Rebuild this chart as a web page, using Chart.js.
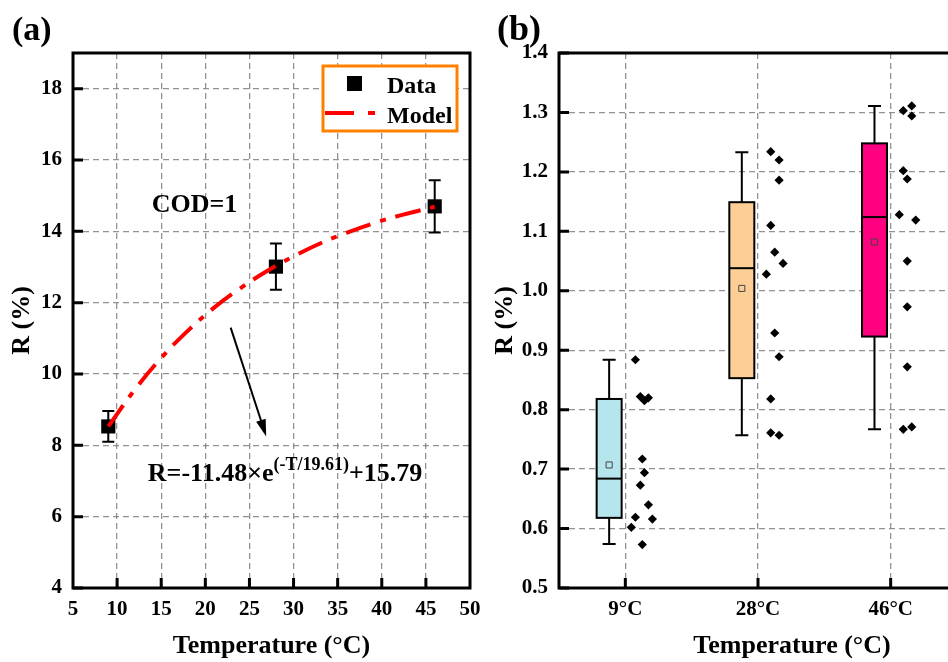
<!DOCTYPE html>
<html>
<head>
<meta charset="utf-8">
<script src="https://cdn.jsdelivr.net/npm/chart.js@4.4.1/dist/chart.umd.min.js"></script>
<style>
  html, body { margin: 0; padding: 0; background: #fff; overflow: hidden; }
  #wrapA { position: absolute; left: 0; top: 0; width: 480px; height: 662px; }
  #wrapB { position: absolute; left: 490px; top: 0; width: 458px; height: 662px; overflow: hidden; }
</style>
</head>
<body>
<div id="wrapA"><canvas id="chartA" width="480" height="662"></canvas></div>
<div id="wrapB"><canvas id="chartB" width="480" height="662"></canvas></div>
<script>
// ---- panel (a) data ----
const tempA = [9, 28, 46];
const rA = [8.53, 13.01, 14.70];
const errA = [0.43, 0.65, 0.73];
const modelT = [9, 12, 15, 18, 21, 24, 27, 30, 33, 36, 39, 42, 46];
const modelR = [8.53, 9.56, 10.45, 11.21, 11.86, 12.41, 12.89, 13.30, 13.66, 13.96, 14.22, 14.44, 14.69];
const xTicksA = [5, 10, 15, 20, 25, 30, 35, 40, 45, 50];
const yTicksA = [4, 6, 8, 10, 12, 14, 16, 18];

// ---- panel (b) data ----
const groups = ['9°C', '28°C', '46°C'];
const q1 = [0.618, 0.853, 0.923];
const median = [0.684, 1.038, 1.124];
const q3 = [0.818, 1.149, 1.248];
const whiskLo = [0.574, 0.757, 0.767];
const whiskHi = [0.884, 1.233, 1.311];
const means = [0.707, 1.004, 1.082];
const pts9 = [0.884, 0.822, 0.815, 0.820, 0.717, 0.694, 0.673, 0.640, 0.619, 0.616, 0.602, 0.573];
const pts28 = [1.234, 1.220, 1.186, 1.110, 1.065, 1.046, 1.028, 0.929, 0.889, 0.818, 0.761, 0.757];
const pts46 = [1.303, 1.311, 1.294, 1.202, 1.188, 1.128, 1.119, 1.050, 0.973, 0.872, 0.767, 0.771];
const jit9 = [0.076, 0.113, 0.144, 0.174, 0.128, 0.144, 0.113, 0.174, 0.076, 0.204, 0.045, 0.128];
const jit28 = [0.096, 0.159, 0.159, 0.096, 0.126, 0.189, 0.063, 0.126, 0.159, 0.096, 0.096, 0.159];
const jit46 = [0.095, 0.159, 0.159, 0.095, 0.125, 0.065, 0.189, 0.125, 0.125, 0.125, 0.095, 0.159];
const yTicksB = [0.5, 0.6, 0.7, 0.8, 0.9, 1.0, 1.1, 1.2, 1.3, 1.4];
const boxColors = ['#b5e6ed', '#fdcf96', '#ff0080'];
const boxShift = -0.122;

const SERIF = "'Liberation Serif', 'Times New Roman', serif";
Chart.defaults.font.family = SERIF;
Chart.defaults.font.weight = 'bold';
Chart.defaults.color = '#000';

const gridOpts = { color: 'rgba(128,128,128,0.85)', lineWidth: 1.3, drawTicks: false };
const borderOpts = { display: false, dash: [6, 4] };

function frameAndTicks(chart, xTicksOn) {
    const { ctx, chartArea: a, scales } = chart;
    ctx.save();
    ctx.strokeStyle = '#000';
    ctx.lineWidth = 3;
    ctx.setLineDash([]);
    ctx.beginPath();
    scales.y.ticks.forEach(t => {
        const py = scales.y.getPixelForValue(t.value);
        ctx.moveTo(a.left, py);
        ctx.lineTo(a.left + 10, py);
    });
    scales.x.ticks.forEach(t => {
        if (!xTicksOn(t.value)) return;
        const px = scales.x.getPixelForValue(t.value);
        ctx.moveTo(px, a.bottom);
        ctx.lineTo(px, a.bottom - 10);
    });
    ctx.stroke();
    ctx.strokeRect(a.left, a.top, a.right - a.left, a.bottom - a.top);
    ctx.restore();
}

// ---- panel (a) ----
const panelA = {
    id: 'panelA',
    beforeDatasetsDraw(chart) {
        const { ctx, scales: { x, y } } = chart;
        ctx.save();
        ctx.strokeStyle = '#000';
        ctx.lineWidth = 2;
        ctx.beginPath();
        tempA.forEach((t, i) => {
            const px = x.getPixelForValue(t);
            const top = y.getPixelForValue(rA[i] + errA[i]);
            const bot = y.getPixelForValue(rA[i] - errA[i]);
            ctx.moveTo(px, top); ctx.lineTo(px, bot);
            ctx.moveTo(px - 6, top); ctx.lineTo(px + 6, top);
            ctx.moveTo(px - 6, bot); ctx.lineTo(px + 6, bot);
        });
        ctx.stroke();
        ctx.restore();
    },
    afterDraw(chart) {
        const { ctx, scales: { x, y } } = chart;
        frameAndTicks(chart, v => v !== 5 && v !== 50);
        ctx.save();

        // legend
        ctx.fillStyle = '#fff';
        ctx.fillRect(323, 66, 134, 65);
        ctx.strokeStyle = '#ff8000';
        ctx.lineWidth = 3;
        ctx.strokeRect(323, 66, 134, 65);
        ctx.fillStyle = '#000';
        ctx.fillRect(347, 76, 15, 15);
        ctx.strokeStyle = '#ff0000';
        ctx.lineWidth = 4;
        ctx.setLineDash([29, 14, 7, 30]);
        ctx.beginPath();
        ctx.moveTo(325, 113); ctx.lineTo(378, 113);
        ctx.stroke();
        ctx.setLineDash([]);
        ctx.fillStyle = '#000';
        ctx.font = `bold 24px ${SERIF}`;
        ctx.textAlign = 'left';
        ctx.textBaseline = 'alphabetic';
        ctx.fillText('Data', 387, 93);
        ctx.fillText('Model', 387, 123);

        // COD text
        ctx.font = `bold 26px ${SERIF}`;
        ctx.fillText('COD=1', x.getPixelForValue(13.93), y.getPixelForValue(14.55));

        // equation
        let ex = x.getPixelForValue(13.48);
        const ey = y.getPixelForValue(7.0);
        const parts = [['R=-11.48×e', 26, 0], ['(-T/19.61)', 18, -11], ['+15.79', 26, 0]];
        parts.forEach(([s, size, dy]) => {
            ctx.font = `bold ${size}px ${SERIF}`;
            ctx.fillText(s, ex, ey + dy);
            ex += ctx.measureText(s).width;
        });

        // arrow
        const x0 = x.getPixelForValue(22.87), y0 = y.getPixelForValue(11.30);
        const x1 = x.getPixelForValue(26.9), y1 = y.getPixelForValue(8.25);
        const ang = Math.atan2(y1 - y0, x1 - x0);
        ctx.strokeStyle = '#000';
        ctx.lineWidth = 2;
        ctx.beginPath();
        ctx.moveTo(x0, y0);
        ctx.lineTo(x1 - 12 * Math.cos(ang), y1 - 12 * Math.sin(ang));
        ctx.stroke();
        ctx.beginPath();
        ctx.moveTo(x1, y1);
        ctx.lineTo(x1 - 17 * Math.cos(ang) + 5 * Math.sin(ang), y1 - 17 * Math.sin(ang) - 5 * Math.cos(ang));
        ctx.lineTo(x1 - 17 * Math.cos(ang) - 5 * Math.sin(ang), y1 - 17 * Math.sin(ang) + 5 * Math.cos(ang));
        ctx.closePath();
        ctx.fill();

        // panel letter
        ctx.font = `bold 34px ${SERIF}`;
        ctx.fillText('(a)', 12, 40);
        ctx.restore();
    }
};

new Chart(document.getElementById('chartA'), {
    type: 'scatter',
    data: {
        datasets: [
            {
                label: 'Model',
                data: modelT.map((t, i) => ({ x: t, y: modelR[i] })),
                showLine: true,
                borderColor: '#ff0000',
                borderWidth: 4,
                borderDash: [26, 10, 6, 10],
                pointRadius: 0,
                tension: 0.4,
                fill: false
            },
            {
                label: 'Data',
                data: tempA.map((t, i) => ({ x: t, y: rA[i] })),
                pointStyle: 'rect',
                pointRadius: 10,
                backgroundColor: '#000',
                borderWidth: 0
            }
        ]
    },
    options: {
        responsive: false,
        animation: false,
        events: [],
        layout: { padding: { left: 0, top: 53, right: 9, bottom: 0 } },
        plugins: { legend: { display: false }, tooltip: { enabled: false } },
        scales: {
            x: {
                type: 'linear', min: 5, max: 50,
                afterBuildTicks: s => { s.ticks = xTicksA.map(v => ({ value: v })); },
                afterFit: s => { s.height = 74; s.paddingLeft = 0; s.paddingRight = 0; },
                ticks: { padding: 9, font: { size: 21 }, maxRotation: 0, autoSkip: false },
                grid: gridOpts, border: borderOpts,
                title: { display: true, text: 'Temperature (°C)', font: { size: 26 }, padding: { top: 0, bottom: 0 } }
            },
            y: {
                min: 4, max: 19,
                afterBuildTicks: s => { s.ticks = yTicksA.map(v => ({ value: v })); },
                afterFit: s => { s.width = 73; s.paddingTop = 0; s.paddingBottom = 0; },
                ticks: { padding: 11, font: { size: 21 } },
                grid: gridOpts, border: borderOpts,
                title: { display: true, text: 'R (%)', font: { size: 26 }, padding: { top: 7, bottom: 0 } }
            }
        }
    },
    plugins: [panelA]
});

// ---- panel (b) ----
const panelB = {
    id: 'panelB',
    beforeDatasetsDraw(chart) {
        const { ctx, scales: { x, y } } = chart;
        ctx.save();
        ctx.strokeStyle = '#000';
        ctx.lineWidth = 2;
        groups.forEach((g, i) => {
            const cx = x.getPixelForValue(i + boxShift);
            const yq1 = y.getPixelForValue(q1[i]);
            const yq3 = y.getPixelForValue(q3[i]);
            const ym = y.getPixelForValue(median[i]);
            const ylo = y.getPixelForValue(whiskLo[i]);
            const yhi = y.getPixelForValue(whiskHi[i]);
            ctx.beginPath();
            ctx.moveTo(cx, yq3); ctx.lineTo(cx, yhi);
            ctx.moveTo(cx - 6.5, yhi); ctx.lineTo(cx + 6.5, yhi);
            ctx.moveTo(cx, yq1); ctx.lineTo(cx, ylo);
            ctx.moveTo(cx - 6.5, ylo); ctx.lineTo(cx + 6.5, ylo);
            ctx.stroke();
            ctx.fillStyle = boxColors[i];
            ctx.fillRect(cx - 12.5, yq3, 25, yq1 - yq3);
            ctx.strokeRect(cx - 12.5, yq3, 25, yq1 - yq3);
            ctx.beginPath();
            ctx.moveTo(cx - 12.5, ym); ctx.lineTo(cx + 12.5, ym);
            ctx.stroke();
        });
        ctx.restore();
    },
    afterDraw(chart) {
        const { ctx } = chart;
        frameAndTicks(chart, () => true);
        ctx.save();
        ctx.fillStyle = '#000';
        ctx.textBaseline = 'middle';
        ctx.textAlign = 'center';
        ctx.font = `bold 26px ${SERIF}`;
        ctx.fillText('Temperature (°C)', 302, 646);
        ctx.textAlign = 'left';
        ctx.textBaseline = 'alphabetic';
        ctx.font = `bold 36px ${SERIF}`;
        ctx.fillText('(b)', 7, 40);
        ctx.restore();
    }
};

const allPts = [pts9, pts28, pts46];
const allJit = [jit9, jit28, jit46];
const scatterPts = [];
allPts.forEach((arr, i) => arr.forEach((v, k) => scatterPts.push({ x: i + allJit[i][k], y: v })));

new Chart(document.getElementById('chartB'), {
    type: 'scatter',
    data: {
        datasets: [
            {
                label: 'Mean',
                data: means.map((m, i) => ({ x: i + boxShift, y: m })),
                pointStyle: 'rect',
                pointRadius: 4.3,
                backgroundColor: 'rgba(0,0,0,0)',
                borderColor: '#444',
                borderWidth: 1
            },
            {
                label: 'Points',
                data: scatterPts,
                pointStyle: 'rectRot',
                pointRadius: 4.6,
                backgroundColor: '#000',
                borderWidth: 0
            }
        ]
    },
    options: {
        responsive: false,
        animation: false,
        events: [],
        layout: { padding: { left: 0, top: 53, right: 13, bottom: 0 } },
        plugins: { legend: { display: false }, tooltip: { enabled: false } },
        scales: {
            x: {
                type: 'linear', min: -0.5, max: 2.5,
                afterBuildTicks: s => { s.ticks = groups.map((g, i) => ({ value: i })); },
                afterFit: s => { s.height = 74; s.paddingLeft = 0; s.paddingRight = 0; },
                ticks: { padding: 9, font: { size: 21 }, maxRotation: 0, autoSkip: false,
                    callback: v => groups[Math.round(v)] },
                grid: gridOpts, border: borderOpts
            },
            y: {
                min: 0.5, max: 1.4,
                afterBuildTicks: s => { s.ticks = yTicksB.map(v => ({ value: v })); },
                afterFit: s => { s.width = 69; s.paddingTop = 0; s.paddingBottom = 0; },
                ticks: { padding: 11, font: { size: 21 }, callback: v => v.toFixed(1) },
                grid: gridOpts, border: borderOpts,
                title: { display: true, text: 'R (%)', font: { size: 26 }, padding: { top: 0, bottom: 0 } }
            }
        }
    },
    plugins: [panelB]
});
</script>
</body>
</html>
